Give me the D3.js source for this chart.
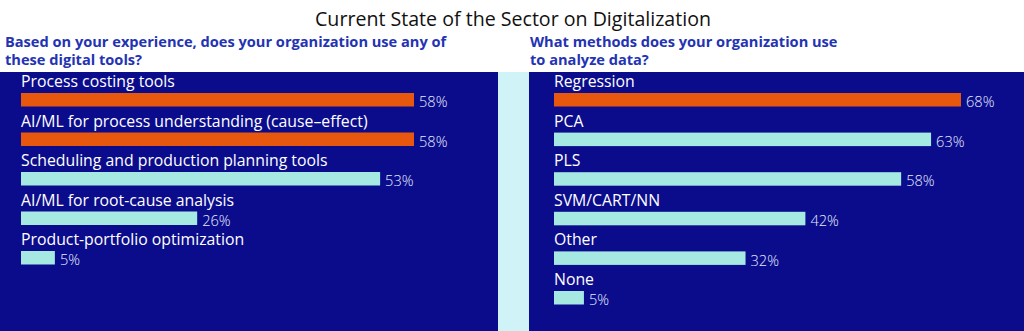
<!DOCTYPE html>
<html>
<head>
<meta charset="utf-8">
<script src="https://cdn.jsdelivr.net/npm/d3@7"></script>
<style>
  html, body { margin: 0; padding: 0; background: #fff; }
  svg { display: block; font-family: "Open Sans", Lato, sans-serif; }
</style>
</head>
<body>
<svg id="chart" width="1024" height="331"></svg>
<script>
// left panel: digital tools
var toolNames = ["Process costing tools", "AI/ML for process understanding (cause\u2013effect)",
  "Scheduling and production planning tools", "AI/ML for root-cause analysis",
  "Product-portfolio optimization"];
var toolValues = [58, 58, 53, 26, 5];
var toolHighlight = [true, true, false, false, false];

// right panel: analysis methods
var methodNames = ["Regression", "PCA", "PLS", "SVM/CART/NN", "Other", "None"];
var methodValues = [68, 63, 58, 42, 32, 5];
var methodHighlight = [true, false, false, false, false, false];

var DARK = "#0b0c8c", ORANGE = "#e8570e", CYAN = "#a6e9e2", STRIP = "#cff3f6", SUB = "#2333b3";

var svg = d3.select("#chart");

svg.append("text")
  .attr("x", 513).attr("y", 26)
  .attr("text-anchor", "middle")
  .attr("font-size", 19.6).attr("fill", "#111")
  .text("Current State of the Sector on Digitalization");

// backgrounds
svg.append("rect").attr("x", 0).attr("y", 72).attr("width", 498).attr("height", 259).attr("fill", DARK);
svg.append("rect").attr("x", 498).attr("y", 72).attr("width", 31).attr("height", 259).attr("fill", STRIP);
svg.append("rect").attr("x", 529).attr("y", 72).attr("width", 495).attr("height", 259).attr("fill", DARK);

function panel(opts) {
  var g = svg.append("g");

  g.selectAll(".sub").data(opts.subtitle).enter().append("text")
    .attr("x", opts.subX)
    .attr("y", function (d, i) { return 47 + i * 18; })
    .attr("font-size", 14.6).attr("font-weight", 700).attr("fill", SUB)
    .text(function (d) { return d; });

  var x = d3.scaleLinear().domain([0, opts.max]).range([opts.x0, opts.x1]);
  var y = d3.scaleBand().domain(d3.range(opts.names.length))
    .range([opts.top, opts.top + opts.step * opts.names.length]).paddingInner(0);

  var rows = g.selectAll(".row").data(opts.names.map(function (n, i) {
      return { name: n, value: opts.values[i], hi: opts.hi[i] };
    })).enter().append("g")
    .attr("transform", function (d, i) { return "translate(0," + y(i) + ")"; });

  // category label sits just above its bar
  rows.append("text")
    .attr("x", opts.x0).attr("y", 15)
    .attr("font-size", 15.8).attr("font-weight", 500).attr("fill", "#fff")
    .text(function (d) { return d.name; });

  rows.append("rect")
    .attr("x", opts.x0).attr("y", 21)
    .attr("width", function (d) { return x(d.value) - opts.x0; })
    .attr("height", 13.5)
    .attr("fill", function (d) { return d.hi ? ORANGE : CYAN; });

  rows.append("text")
    .attr("x", function (d) { return x(d.value) + 5; }).attr("y", 35.2)
    .attr("font-size", 14.6).attr("font-weight", 300).attr("fill", "#e6ecff")
    .text(function (d) { return d.value + "%"; });
}

panel({
  names: toolNames, values: toolValues, hi: toolHighlight,
  subtitle: ["Based on your experience, does your organization use any of", "these digital tools?"],
  subX: 5, x0: 21, x1: 414, max: 58, top: 72, step: 39.5
});

panel({
  names: methodNames, values: methodValues, hi: methodHighlight,
  subtitle: ["What methods does your organization use", "to analyze data?"],
  subX: 530, x0: 554, x1: 961, max: 68, top: 72, step: 39.6
});
</script>
</body>
</html>
